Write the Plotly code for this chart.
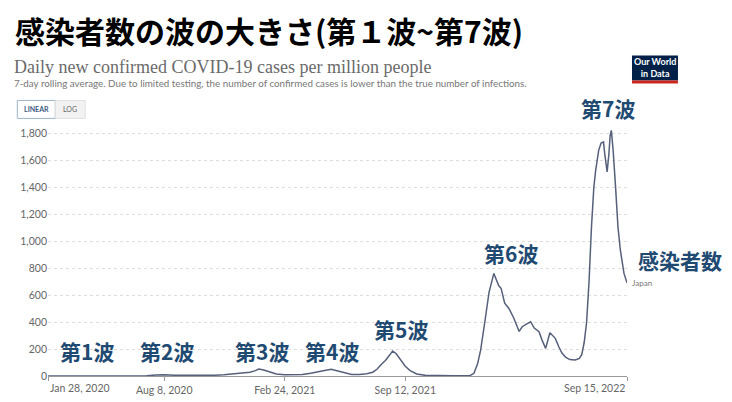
"""Japan: daily new confirmed COVID-19 cases per million people, waves 1-7"""

import plotly.graph_objects as go

# 7-day rolling average
DATES = [
    "2020-01-28", "2020-02-20", "2020-03-15", "2020-03-31", "2020-04-12", "2020-04-26",
    "2020-05-10", "2020-06-01", "2020-06-25", "2020-07-10", "2020-07-25", "2020-08-07",
    "2020-08-25", "2020-09-15", "2020-10-10", "2020-10-31", "2020-11-15", "2020-11-28",
    "2020-12-15", "2020-12-28", "2021-01-05", "2021-01-12", "2021-01-20", "2021-01-30",
    "2021-02-10", "2021-02-24", "2021-03-10", "2021-03-25", "2021-04-08", "2021-04-22",
    "2021-05-01", "2021-05-12", "2021-05-22", "2021-06-01", "2021-06-15", "2021-06-28",
    "2021-07-10", "2021-07-20", "2021-07-27", "2021-08-03", "2021-08-10", "2021-08-17",
    "2021-08-22", "2021-08-28", "2021-09-04", "2021-09-12", "2021-09-20", "2021-10-01",
    "2021-10-15", "2021-11-01", "2021-12-01", "2021-12-28", "2022-01-04", "2022-01-10",
    "2022-01-15", "2022-01-22", "2022-01-29", "2022-02-06", "2022-02-10", "2022-02-14",
    "2022-02-18", "2022-02-24", "2022-03-03", "2022-03-11", "2022-03-20", "2022-03-25",
    "2022-04-01", "2022-04-08", "2022-04-14", "2022-04-22", "2022-04-27", "2022-05-03",
    "2022-05-10", "2022-05-19", "2022-05-25", "2022-05-30", "2022-06-05", "2022-06-12",
    "2022-06-21", "2022-06-28", "2022-07-02", "2022-07-06", "2022-07-10", "2022-07-14",
    "2022-07-18", "2022-07-22", "2022-07-25", "2022-07-30", "2022-08-03", "2022-08-07",
    "2022-08-09", "2022-08-13", "2022-08-16", "2022-08-18", "2022-08-20", "2022-08-23",
    "2022-08-27", "2022-08-31", "2022-09-04", "2022-09-10", "2022-09-15",
]
CASES_PER_MILLION = [
    0.0, 0.1, 0.3, 1.5, 4.4, 2.5,
    0.8, 0.3, 0.8, 2.5, 6.5, 8.7,
    5.5, 4.2, 4.0, 5.5, 10, 17,
    22, 28, 38, 52, 44, 28,
    15, 8.5, 8.5, 12, 21, 36,
    40, 50, 40, 25, 12, 12,
    17, 28, 50, 85, 115, 155,
    185, 165, 120, 72, 40, 15,
    5, 2, 1, 2, 20, 90,
    190, 400, 620, 760, 710, 670,
    650, 540, 500, 430, 330, 365,
    385, 402, 355, 328, 266, 205,
    320, 279, 215, 170, 140, 122,
    118, 130, 160, 250, 400, 700,
    1100, 1400, 1524, 1672, 1726, 1734,
    1648, 1512, 1648, 1780, 1820, 1672,
    1401, 1105, 932, 760, 690,
]

Y_TICKS = [0, 200, 400, 600, 800, 1000, 1200, 1400, 1600, 1800]
X_TICKS = ["2020-01-28", "2020-08-08", "2021-02-24", "2021-09-12", "2022-09-15"]
X_TICK_LABELS = ["Jan 28, 2020", "Aug 8, 2020", "Feb 24, 2021", "Sep 12, 2021", "Sep 15, 2022"]

WAVE_LABELS = ["第1波", "第2波", "第3波", "第4波", "第5波", "第6波", "第7波", "感染者数"]

W, H = 732, 402
LEFT, RIGHT, TOP, BOTTOM = 47.7, 627.0, 128.6, 376.0
LABEL_BLUE = "#1f4a72"


def px(x):
    """pixel x -> paper x"""
    return (x - LEFT) / (RIGHT - LEFT)


def py(y):
    """pixel y -> paper y"""
    return (BOTTOM - y) / (BOTTOM - TOP)


fig = go.Figure()

fig.add_trace(go.Scatter(
    x=DATES, y=CASES_PER_MILLION, mode="lines",
    line=dict(color="#56607a", width=1.5), hoverinfo="skip",
))

annotations = []

# headings
annotations.append(dict(
    xref="paper", yref="paper", x=px(13), y=py(29), xanchor="left", yanchor="middle",
    text="<b>感染者数の波の大きさ(第１波~第7波)</b>", showarrow=False,
    font=dict(family="Noto Sans CJK JP", size=30, color="#000000"),
))
annotations.append(dict(
    xref="paper", yref="paper", x=px(12), y=py(66), xanchor="left", yanchor="middle",
    text="Daily new confirmed COVID-19 cases per million people", showarrow=False,
    font=dict(family="Liberation Serif", size=18, color="#6a6a6a"),
))
annotations.append(dict(
    xref="paper", yref="paper", x=px(12), y=py(83), xanchor="left", yanchor="middle",
    text="7-day rolling average. Due to limited testing, the number of confirmed cases "
         "is lower than the true number of infections.", showarrow=False,
    font=dict(family="Lato", size=9.8, color="#777777"),
))

# LINEAR / LOG toggle
annotations.append(dict(
    xref="paper", yref="paper", x=px(36), y=py(109), xanchor="center", yanchor="middle",
    text="<b>LINEAR</b>", showarrow=False, font=dict(family="Lato", size=7, color="#3d5a80"),
))
annotations.append(dict(
    xref="paper", yref="paper", x=px(70), y=py(109), xanchor="center", yanchor="middle",
    text="LOG", showarrow=False, font=dict(family="Lato", size=7, color="#666666"),
))

# Our World in Data logo
annotations.append(dict(
    xref="paper", yref="paper", x=px(655), y=py(67), xanchor="center", yanchor="middle",
    text="<b>Our World<br>in Data</b>", showarrow=False,
    font=dict(family="Lato", size=9, color="#ffffff"),
))

# wave labels, placed where the reference put them
wave_pos = [(87, 351), (167, 351), (262, 351), (332, 351), (401, 329),
            (511, 253), (608, 108), (680, 260)]
for text, (lx, ly) in zip(WAVE_LABELS, wave_pos):
    annotations.append(dict(
        xref="paper", yref="paper", x=px(lx), y=py(ly), xanchor="center", yanchor="middle",
        text=f"<b>{text}</b>", showarrow=False,
        font=dict(family="Noto Sans CJK JP", size=21, color=LABEL_BLUE),
    ))

# series label at end of line
annotations.append(dict(
    x=DATES[-1], y=CASES_PER_MILLION[-1], xanchor="left", yanchor="middle", xshift=3,
    text="Japan", showarrow=False, font=dict(family="Lato", size=8, color="#777777"),
))

# first and last date labels hug the ends like OWID
annotations.append(dict(
    x=X_TICKS[0], y=0, yref="y", xanchor="left", yanchor="top", yshift=-4,
    text=X_TICK_LABELS[0], showarrow=False, font=dict(family="Lato", size=10.5, color="#666666"),
))
annotations.append(dict(
    x=X_TICKS[-1], y=0, yref="y", xanchor="right", yanchor="top", yshift=-4,
    text=X_TICK_LABELS[-1], showarrow=False, font=dict(family="Lato", size=10.5, color="#666666"),
))

shapes = [
    dict(type="rect", xref="paper", yref="paper", x0=px(17), x1=px(55), y0=py(118), y1=py(100),
         line=dict(color="#9fb3c8", width=1), fillcolor="#ffffff", layer="below"),
    dict(type="rect", xref="paper", yref="paper", x0=px(55), x1=px(85), y0=py(118), y1=py(100),
         line=dict(color="#e0e0e0", width=1), fillcolor="#f2f2f2", layer="below"),
    dict(type="rect", xref="paper", yref="paper", x0=px(632), x1=px(678), y0=py(80), y1=py(55),
         line=dict(width=0), fillcolor="#002147", layer="below"),
    dict(type="rect", xref="paper", yref="paper", x0=px(632), x1=px(678), y0=py(83), y1=py(80),
         line=dict(width=0), fillcolor="#ce261e", layer="below"),
]

fig.update_layout(
    width=W, height=H,
    margin=dict(l=LEFT, r=W - RIGHT, t=TOP, b=H - BOTTOM, autoexpand=False),
    paper_bgcolor="white", plot_bgcolor="white",
    showlegend=False,
    annotations=annotations,
    shapes=shapes,
)

fig.update_xaxes(
    range=[X_TICKS[0], X_TICKS[-1]],
    tickvals=X_TICKS, ticktext=[""] + X_TICK_LABELS[1:-1] + [""],
    showgrid=False, zeroline=False,
    showline=True, linecolor="#999999", linewidth=1,
    ticks="outside", ticklen=4, tickcolor="#999999",
    tickfont=dict(family="Lato", size=10.5, color="#666666"),
)
fig.update_yaxes(
    range=[0, 1830], tickvals=Y_TICKS, tickformat=",",
    showgrid=True, gridcolor="#dddddd", griddash="dot", gridwidth=1,
    zeroline=False, showline=False, ticks="",
    tickfont=dict(family="Lato", size=10.5, color="#666666"),
)

# page body has a default margin; drop it so the figure sits at the window's corner
fig.write_html("out.html", config={"displayModeBar": False},
               post_script="document.body.style.margin='0';"
                           "document.body.style.overflow='hidden';")
